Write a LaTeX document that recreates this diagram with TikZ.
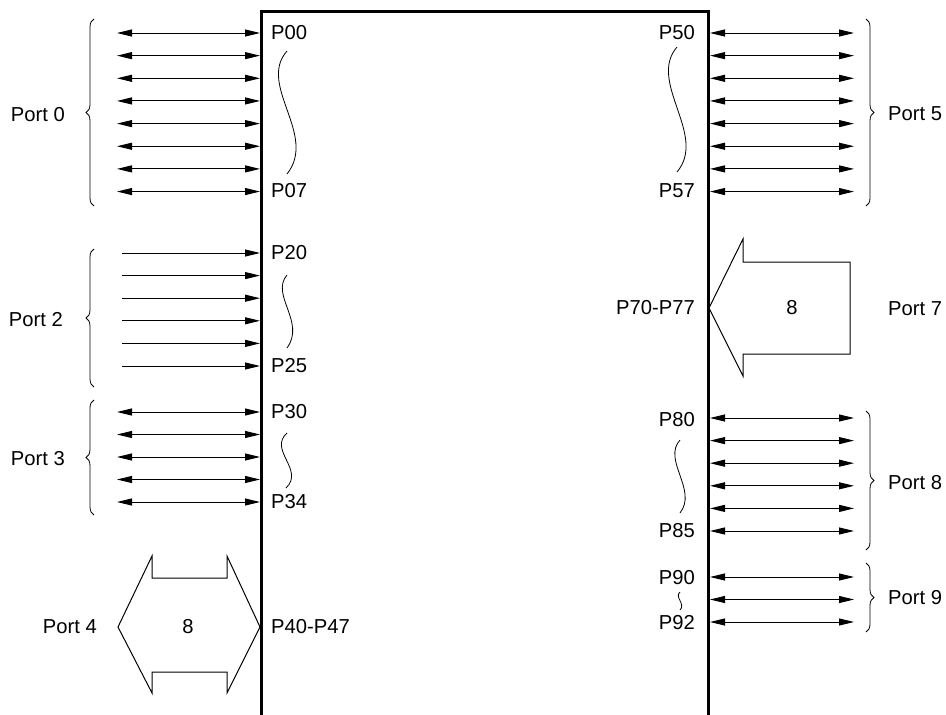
\documentclass[tikz,border=0pt]{standalone}
\usepackage{fontspec}
\setmainfont{Liberation Sans}
\usetikzlibrary{arrows.meta,decorations.pathreplacing}
\begin{document}
\begin{tikzpicture}[x=1pt,y=-1pt,
  lbl/.style={font=\fontsize{20.2}{23}\selectfont, inner sep=0pt},
  bidir/.style={line width=1pt, {Triangle[length=15pt,width=7pt]}-{Triangle[length=15pt,width=7pt]}},
  unidir/.style={line width=1pt, -{Triangle[length=15pt,width=7pt]}},
  lbrace/.style={decorate, decoration={brace, amplitude=8pt}, line width=0.8pt},
  wave/.style={line width=0.8pt},
  bus/.style={line width=1pt, line join=miter},
  chip/.style={line width=3pt, line join=miter}
]
\fill[white] (0,0) rectangle (946,715);
\useasboundingbox (0,0) rectangle (946,715);

% chip outline
\coordinate (cbl) at (261,718);
\coordinate (ctl) at (261,11);
\coordinate (ctr) at (708,11);
\coordinate (cbr) at (708,718);
\draw[chip] (cbl) -- (ctl) -- (ctr) -- (cbr);

% Port 0 and Port 5
\foreach \i in {0,...,7}{
  \pgfmathsetmacro\yy{33+22.65*\i}
  \coordinate (a0\i) at (117,\yy);
  \coordinate (b0\i) at (260,\yy);
  \draw[bidir] (a0\i) -- (b0\i);
  \coordinate (a5\i) at (710,\yy);
  \coordinate (b5\i) at (854,\yy);
  \draw[bidir] (a5\i) -- (b5\i);
}
% Port 2
\foreach \i in {0,...,5}{
  \pgfmathsetmacro\yy{253+22.6*\i}
  \coordinate (a2\i) at (122,\yy);
  \coordinate (b2\i) at (260,\yy);
  \draw[unidir] (a2\i) -- (b2\i);
}
% Port 3
\foreach \i in {0,...,4}{
  \pgfmathsetmacro\yy{412+22.5*\i}
  \coordinate (a3\i) at (117,\yy);
  \coordinate (b3\i) at (260,\yy);
  \draw[bidir] (a3\i) -- (b3\i);
}
% Port 8
\foreach \i in {0,...,5}{
  \pgfmathsetmacro\yy{418+22.6*\i}
  \coordinate (a8\i) at (710,\yy);
  \coordinate (b8\i) at (854,\yy);
  \draw[bidir] (a8\i) -- (b8\i);
}
% Port 9
\foreach \i in {0,...,2}{
  \pgfmathsetmacro\yy{577+22.5*\i}
  \coordinate (a9\i) at (710,\yy);
  \coordinate (b9\i) at (854,\yy);
  \draw[bidir] (a9\i) -- (b9\i);
}

% braces
\draw[lbrace] (94,206) -- (94,19);
\draw[lbrace] (94,387) -- (94,249);
\draw[lbrace] (94,515) -- (94,400);
\draw[lbrace] (866,19) -- (866,206);
\draw[lbrace] (866,411) -- (866,550);
\draw[lbrace] (866,563) -- (866,632);

% port labels
\node[lbl, anchor=east] (port0) at (65,115) {Port 0};
\node[lbl, anchor=east] (port2) at (63,320) {Port 2};
\node[lbl, anchor=east] (port3) at (65,459) {Port 3};
\node[lbl, anchor=east] (port4) at (97,627) {Port 4};
\node[lbl, anchor=west] (port5) at (888,114) {Port 5};
\node[lbl, anchor=west] (port7) at (888,309) {Port 7};
\node[lbl, anchor=west] (port8) at (888,483) {Port 8};
\node[lbl, anchor=west] (port9) at (888,598) {Port 9};

% pin labels left
\node[lbl, anchor=west] (p00) at (271,33) {P00};
\node[lbl, anchor=west] (p07) at (271,191) {P07};
\node[lbl, anchor=west] (p20) at (271,253) {P20};
\node[lbl, anchor=west] (p25) at (271,366) {P25};
\node[lbl, anchor=west] (p30) at (271,412) {P30};
\node[lbl, anchor=west] (p34) at (271,502) {P34};
\node[lbl, anchor=west] (p40) at (271,627) {P40-P47};
% pin labels right
\node[lbl, anchor=east] (p50) at (695,33) {P50};
\node[lbl, anchor=east] (p57) at (695,191) {P57};
\node[lbl, anchor=east] (p70) at (695,308) {P70-P77};
\node[lbl, anchor=east] (p80) at (695,420) {P80};
\node[lbl, anchor=east] (p85) at (695,531) {P85};
\node[lbl, anchor=east] (p90) at (695,578) {P90};
\node[lbl, anchor=east] (p92) at (695,623) {P92};

% waves
\draw[wave] (287,51) .. controls (257,85) and (318,135) .. (287,174);
\draw[wave] (677,47) .. controls (647,82) and (708,135) .. (677,172);
\draw[wave] (287,275) .. controls (270,295) and (306,322) .. (287,348);
\draw[wave] (287,433) .. controls (268,450) and (305,470) .. (286,488);
\draw[wave] (680,440) .. controls (662,460) and (698,490) .. (680,513);
\draw[wave] (680,592) .. controls (674,597) and (686,604) .. (680,610);

% Port 7 bus arrow
\draw[bus] (709,308) -- (743,239) -- (743,262) -- (850,262) -- (850,354) -- (743,354) -- (743,376) -- cycle;
\node[lbl] (n7) at (792,308) {8};

% Port 4 bus double arrow
\draw[bus] (118,627) -- (152,556) -- (152,578) -- (227,578) -- (227,556) -- (260,627) -- (227,693) -- (227,672) -- (152,672) -- (152,693) -- cycle;
\node[lbl] (n4) at (188,627) {8};
\end{tikzpicture}
\end{document}
